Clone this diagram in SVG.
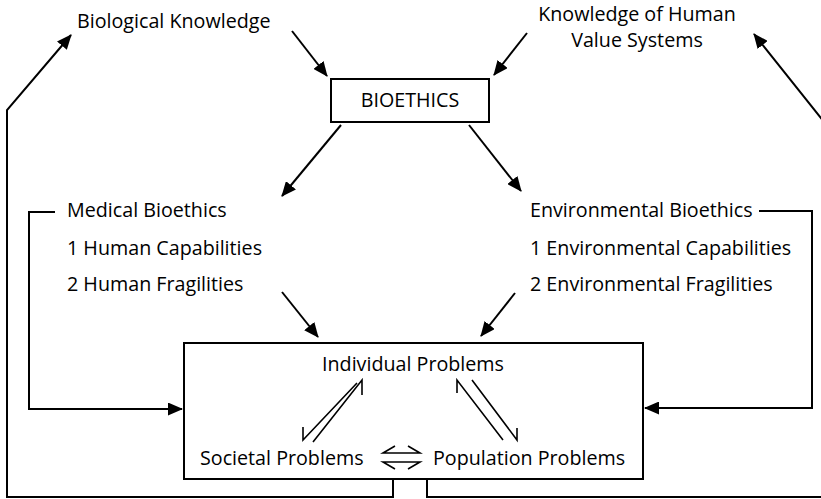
<svg xmlns="http://www.w3.org/2000/svg" width="821" height="499" viewBox="0 0 821 499">
  <style>
    text { font-family: "Open Sans", "Liberation Sans", sans-serif; font-size: 19.7px; fill: #000; }
    .box { fill: #fff; stroke: #000; stroke-width: 2; }
    .link { fill: none; stroke: #000; stroke-width: 2; }
    .harpoon { fill: none; stroke: #000; stroke-width: 1.6; }
    .mid { text-anchor: middle; }
  </style>
  <defs>
    <marker id="head" markerUnits="userSpaceOnUse" viewBox="0 0 15 13" refX="14" refY="6.5" markerWidth="15" markerHeight="13" orient="auto">
      <path d="M0,0 L15,6.5 L0,13 z" fill="#000"/>
    </marker>
  </defs>

  <rect width="821" height="499" fill="#fff"/>

  <!-- connectors -->
  <g id="connectors">
    <path class="link" d="M292,31 L327,76" marker-end="url(#head)"/>
    <path class="link" d="M527,33 L494,75" marker-end="url(#head)"/>
    <path class="link" d="M341,125 L282,196" marker-end="url(#head)"/>
    <path class="link" d="M469,125 L521,191" marker-end="url(#head)"/>
    <path class="link" d="M282,292 L318,337" marker-end="url(#head)"/>
    <path class="link" d="M515,293 L481,336" marker-end="url(#head)"/>
    <path class="link" d="M55,212 H29 V409 H182" marker-end="url(#head)"/>
    <path class="link" d="M759,211 H812 V408 H645" marker-end="url(#head)"/>
    <path class="link" d="M393,479 V497 H7 V110 L71,35" marker-end="url(#head)"/>
    <path class="link" d="M427,479 V497 H832 V132 L754,34" marker-end="url(#head)"/>
  </g>

  <!-- nodes -->
  <g id="biological-knowledge">
    <text x="77" y="28">Biological Knowledge</text>
  </g>

  <g id="human-values">
    <text class="mid" x="637" y="21">Knowledge of Human</text>
    <text class="mid" x="637" y="47">Value Systems</text>
  </g>

  <g id="bioethics">
    <rect class="box" x="331" y="79" width="158" height="43"/>
    <text class="mid" x="410" y="107">BIOETHICS</text>
  </g>

  <g id="medical-bioethics">
    <text x="67" y="217">Medical Bioethics</text>
    <text x="67" y="255">1 Human Capabilities</text>
    <text x="67" y="291">2 Human Fragilities</text>
  </g>

  <g id="environmental-bioethics">
    <text x="530" y="217">Environmental Bioethics</text>
    <text x="530" y="255">1 Environmental Capabilities</text>
    <text x="530" y="291">2 Environmental Fragilities</text>
  </g>

  <g id="problems">
    <rect class="box" x="184" y="343" width="459" height="136"/>
    <text class="mid" x="413" y="371">Individual Problems</text>
    <text x="200" y="465">Societal Problems</text>
    <text x="433" y="465">Population Problems</text>
    <!-- paired half-arrows between the problem levels -->
    <path class="harpoon" d="M357,383 L303,440 V427"/>
    <path class="harpoon" d="M313,442 L362,380 V395"/>
    <path class="harpoon" d="M457,393 V380 L503,440"/>
    <path class="harpoon" d="M472,380 L517,440 V428"/>
    <path class="harpoon" d="M395,446 L383,453 H420 L408,446"/>
    <path class="harpoon" d="M395,469 L383,462 H420 L408,469"/>
  </g>
</svg>
